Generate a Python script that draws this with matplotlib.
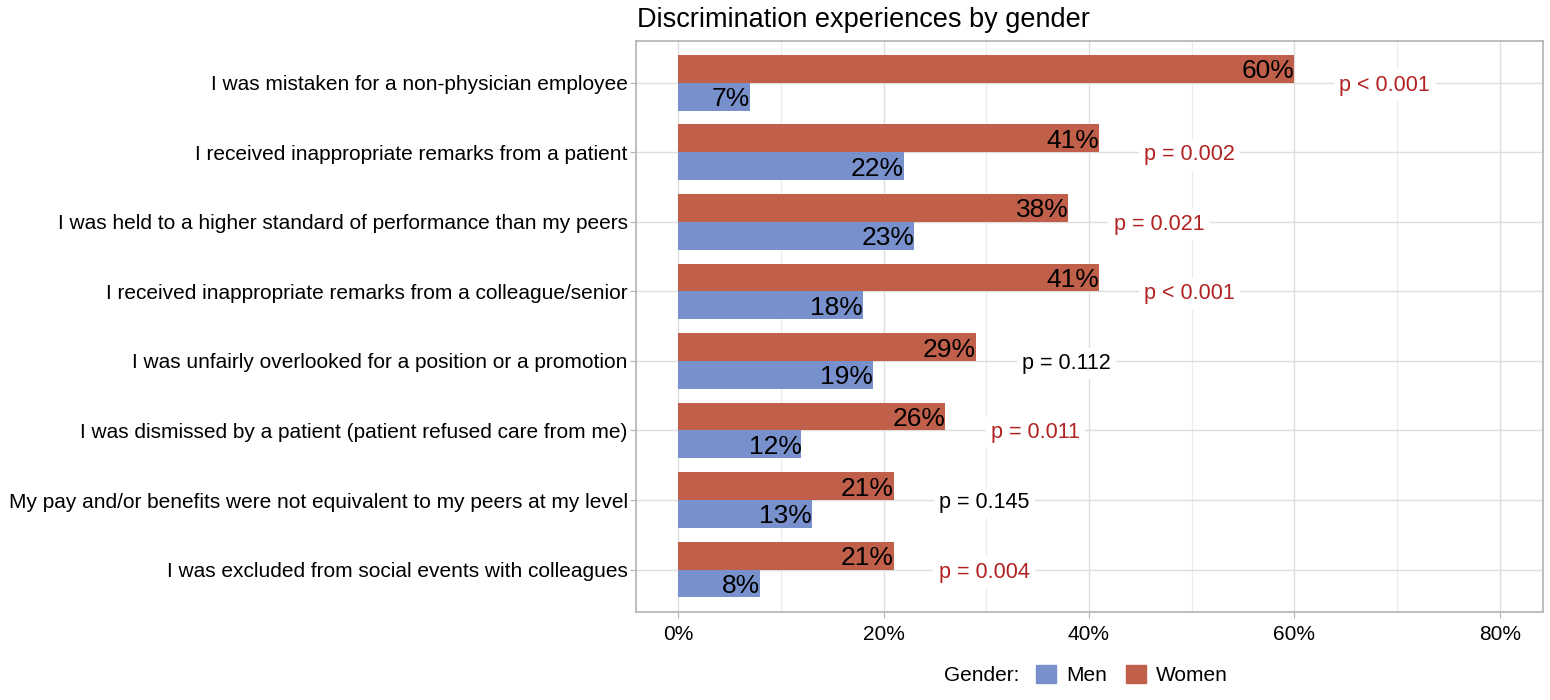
#!/usr/bin/env python3
"""Discrimination experiences by gender: dodged horizontal bars with p-values."""

import matplotlib
matplotlib.use("Agg")
import matplotlib.pyplot as plt
import numpy as np
from matplotlib.patches import Patch
from matplotlib.offsetbox import HPacker
from matplotlib.ticker import FuncFormatter, MultipleLocator

plt.rcParams["font.family"] = ["Liberation Sans", "DejaVu Sans"]

# top to bottom
items = [
    "I was mistaken for a non-physician employee",
    "I received inappropriate remarks from a patient",
    "I was held to a higher standard of performance than my peers",
    "I received inappropriate remarks from a colleague/senior",
    "I was unfairly overlooked for a position or a promotion",
    "I was dismissed by a patient (patient refused care from me)",
    "My pay and/or benefits were not equivalent to my peers at my level",
    "I was excluded from social events with colleagues",
]
women = [60, 41, 38, 41, 29, 26, 21, 21]
men = [7, 22, 23, 18, 19, 12, 13, 8]
p_labels = ["p < 0.001", "p = 0.002", "p = 0.021", "p < 0.001",
            "p = 0.112", "p = 0.011", "p = 0.145", "p = 0.004"]
p_signif = [True, True, True, True, False, True, False, True]

MEN_COLOR = "#7890CC"
WOMEN_COLOR = "#C0604A"
SIG_COLOR = "#B22222"

fig = plt.figure(figsize=(15.5, 7), dpi=100)
ax = fig.add_axes([636 / 1550, 1 - 612 / 700, (1543 - 636) / 1550, (612 - 41) / 700])

n = len(items)
y = np.arange(n)[::-1] + 1.0
bh = 0.4

ax.barh(y + bh / 2, women, height=bh, color=WOMEN_COLOR, zorder=2)
ax.barh(y - bh / 2, men, height=bh, color=MEN_COLOR, zorder=2)

for yi, w, m, pl, sig in zip(y, women, men, p_labels, p_signif):
    ax.text(w, yi + bh / 2, f"{w}%", ha="right", va="center_baseline", fontsize=19, zorder=3)
    ax.text(m, yi - bh / 2, f"{m}%", ha="right", va="center_baseline", fontsize=19, zorder=3)
    ax.text(max(w, m) + 8.8, yi, pl, ha="center", va="center_baseline", fontsize=15.5,
            color=SIG_COLOR if sig else "black", zorder=3,
            bbox=dict(boxstyle="square,pad=0.25", fc="white", ec="none"))

ax.set_xlim(-4.1, 84.2)
ax.set_ylim(0.39, n + 0.6)
ax.set_yticks(y)
ax.set_yticklabels(items, fontsize=15)
ax.xaxis.set_major_locator(MultipleLocator(20))
ax.xaxis.set_minor_locator(MultipleLocator(10))
ax.xaxis.set_major_formatter(FuncFormatter(lambda v, _: f"{v:.0f}%"))
ax.tick_params(axis="x", which="major", labelsize=15, length=4, color="#B3B3B3", pad=5)
ax.tick_params(axis="x", which="minor", length=0)
ax.tick_params(axis="y", length=4, color="#B3B3B3", pad=2)

ax.grid(True, which="major", color="#DEDEDE", linewidth=1.0, zorder=0)
ax.grid(True, which="minor", axis="x", color="#EBEBEB", linewidth=0.8, zorder=0)
ax.set_axisbelow(True)
for s in ax.spines.values():
    s.set_color("#B3B3B3")
    s.set_linewidth(1.2)

fig.text(637 / 1550, 1 - 20 / 700, "Discrimination experiences by gender",
         fontsize=19.5, ha="left", va="center")

handles = [Patch(color=MEN_COLOR, label="Men"), Patch(color=WOMEN_COLOR, label="Women")]
leg = fig.legend(handles=handles, loc="center", bbox_to_anchor=(1086 / 1550, 1 - 675 / 700),
                 ncol=2, frameon=False, fontsize=15, title="Gender:",
                 handlelength=0.95, handleheight=0.95, handletextpad=0.5, columnspacing=0.9)
leg.get_title().set_fontsize(15)
# put legend title inline with the entries
box = leg._legend_box
box._children = [HPacker(children=[box._children[0], box._children[1]], pad=0, sep=12,
                         align="baseline")]

fig.savefig("out.png", dpi=100)
